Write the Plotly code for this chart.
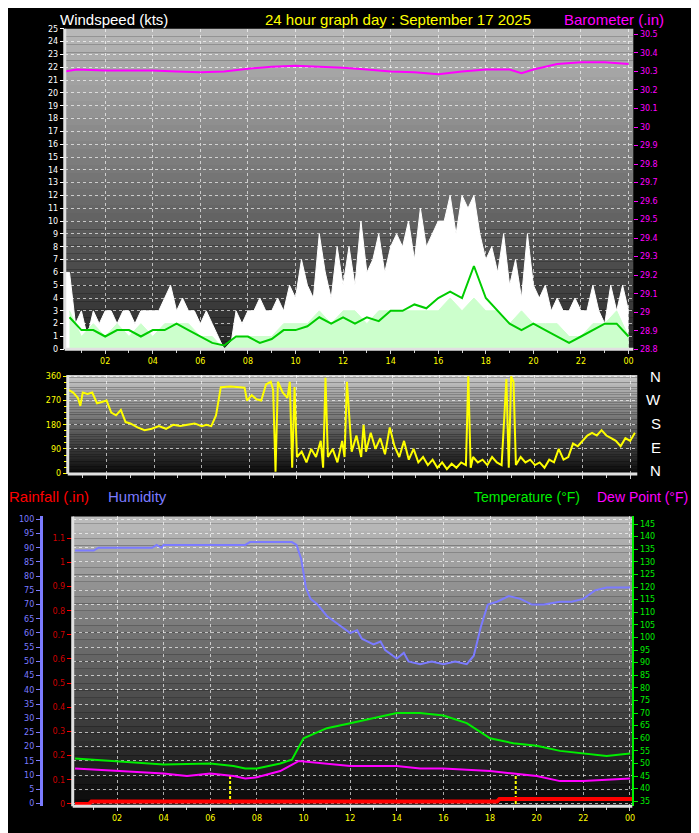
import plotly.graph_objects as go

W, H = 699, 833

# ---------------- data ----------------
gust_hours = [0.25*i for i in range(1, 97)]
gust_kts = [6,6,2,3,1,3,2,3,
            3,2,3,3,2,3,3,3,
            3,4,5,3,4,3,3,2,
            3,2,1,0,0,3,2,3,
            3,4,3,3,4,3,5,4,
            7,5,4,9,6,4,8,5,
            8,5,10,6,7,9,6,8,
            9,8,10,7,11,8,9,10,
            10,12,9,12,11,12,9,7,
            8,6,9,5,7,4,9,5,
            4,5,3,4,3,3,4,3,
            3,5,3,2,5,3,5,3]
wind_hours = [0.5*i for i in range(1, 49)]
speed_kts = [3,1,2,1,2,1,2,1,2,2,2,1,1,0,1,1,1,1,2,2,2,3,2,3,3,2,3,3,3,3,3,3,4,3,4,3,3,2,3,2,2,2,1,1,2,2,3,1]
avg_kts = [2.5,1.5,1.5,1,1.5,1.5,1,1.5,1.5,2,1.5,1,0.5,0.3,1,1,0.5,0.8,1.5,1.5,1.8,2.5,2,2.5,2,2.5,2.2,3,3,3.5,3.2,4,4.5,4,6.5,4,3,2,1.5,2,1.5,1,0.5,1,1.5,2,2,1]

baro_hours = [0.3,0.8,2,4,5,6,7,8,9,10,11,12,13,14,15,16,17,18,19,19.5,20,21,22,23,24]
baro_in = [30.30,30.31,30.305,30.305,30.30,30.295,30.30,30.315,30.325,30.33,30.325,30.32,30.31,30.30,30.295,30.285,30.30,30.31,30.31,30.29,30.31,30.34,30.35,30.35,30.34]

dir_points = [(0.4,310),(0.6,300),(0.8,280),(0.9,250),(1.0,300),(1.2,295),(1.4,300),(1.6,260),(1.8,265),(2.0,270),(2.2,225),(2.4,215),(2.6,235),(2.8,190),(3.0,185),(3.3,170),(3.6,160),(3.9,165),(4.2,175),(4.5,165),(4.8,180),(5.1,175),(5.4,180),(5.7,185),(6.0,175),(6.2,180),(6.4,175),(6.6,215),(6.8,320),(7.2,322),(7.6,320),(7.8,318),(7.9,270),(8.1,290),(8.3,275),(8.5,270),(8.7,330),(8.9,340),(9.0,310),(9.1,5),(9.2,340),(9.4,300),(9.6,280),(9.7,340),(9.8,20),(9.9,320),(10.0,60),(10.2,80),(10.4,40),(10.6,90),(10.8,60),(11.0,120),(11.1,20),(11.2,355),(11.3,60),(11.5,90),(11.7,40),(11.9,120),(12.0,60),(12.1,340),(12.3,80),(12.5,140),(12.7,60),(12.8,180),(12.9,80),(13.1,150),(13.3,90),(13.5,130),(13.7,70),(13.9,170),(14.1,100),(14.3,60),(14.5,120),(14.7,50),(14.9,90),(15.1,40),(15.3,60),(15.5,30),(15.7,50),(15.9,20),(16.1,40),(16.3,15),(16.5,35),(16.7,20),(16.9,40),(17.1,30),(17.2,360),(17.3,20),(17.4,60),(17.6,40),(17.8,50),(18.0,30),(18.2,60),(18.4,40),(18.6,30),(18.8,350),(18.9,20),(19.0,360),(19.1,340),(19.2,30),(19.4,60),(19.6,40),(19.8,50),(20.0,30),(20.2,40),(20.4,20),(20.6,50),(20.8,40),(21.0,90),(21.2,50),(21.4,60),(21.6,110),(21.8,100),(22.0,120),(22.2,140),(22.4,150),(22.6,140),(22.8,160),(23.0,140),(23.2,130),(23.4,120),(23.6,100),(23.8,130),(24.0,120),(24.2,150)]
dir_hours = [p[0] for p in dir_points]
dir_deg = [p[1] for p in dir_points]

hum_points = [(0.2,89),(1.0,89),(1.2,90),(2.0,90),(3.5,90),(3.7,91),(3.9,90),(4.0,91),(6.0,91),(7.5,91),(7.7,92),(9.5,92),(9.7,91),(9.9,86),(10.1,76),(10.3,72),(10.6,70),(11.0,66),(11.5,63),(12.0,60),(12.3,61),(12.5,58),(13.0,56),(13.3,57),(13.5,54),(14.0,51),(14.3,53),(14.5,50),(15.0,49),(15.5,50),(16.0,49),(16.5,50),(17.0,49),(17.3,52),(17.6,62),(17.9,70),(18.3,71),(18.8,73),(19.3,72),(19.8,70),(20.3,70),(21.0,71),(21.5,71),(22.0,72),(22.5,75),(23.0,76),(24.0,76)]
hum_hours = [p[0] for p in hum_points]
hum_pct = [p[1] for p in hum_points]

temp_hours = [0.2,2,4,6,7,7.5,8,9,9.5,10,11,12,13,14,15,16,17,18,19,20,21,22,23,24]
temp_f = [52,51,49.6,50,49,48,48,50,51.5,60,64,66,68,70,70,69,66,60,58,57,55,54,53,54]
dew_hours = [0.2,2,4,5,6,7,7.5,8,9,9.8,11,12,13,14,15,16,17,18,19,20,21,22,23,24]
dew_f = [48,47,46,45,46,45,44,44.5,47,51,50,49,49,49,48,48,47.5,47,46,45,43,43,43.5,44]

rain_hours = [0.2,0.8,0.9,18.3,18.4,24.1]
rain_in = [0,0,0.01,0.01,0.02,0.02]
rain_mark_hours = [6.85, 19.1]
rain_mark_top = [0.12, 0.12]

tick_hours = [2,4,6,8,10,12,14,16,18,20,22,24]
tick_text = ["02","04","06","08","10","12","14","16","18","20","22","00"]

# ---------------- layout helpers ----------------
def px_x(x): return x / W
def px_y(y): return 1 - y / H

panels = {
    "top": (57, 628, 17, 341, "#b8b8b8", "#282828"),
    "mid": (60, 632, 367, 467, "#c8c8c8", "#0a0a0a"),
    "bot": (65, 627, 510, 803, "#bcbcbc", "#0a0a0a"),
}

def hex2rgb(h): return tuple(int(h[i:i+2], 16) for i in (1, 3, 5))

shapes = []
for k, (x0, x1, y0, y1, c0, c1) in panels.items():
    n = 40
    a, b = hex2rgb(c0), hex2rgb(c1)
    for i in range(n):
        f = i / (n - 1)
        col = "rgb(%d,%d,%d)" % tuple(int(a[j] + (b[j] - a[j]) * f) for j in range(3))
        ya = y0 + (y1 - y0) * i / n
        yb = y0 + (y1 - y0) * (i + 1) / n
        shapes.append(dict(type="rect", xref="paper", yref="paper", layer="below",
                           x0=px_x(x0), x1=px_x(x1), y0=px_y(yb), y1=px_y(ya),
                           fillcolor=col, line=dict(width=0)))
    shapes.append(dict(type="line", xref="paper", yref="paper", x0=px_x(x0), x1=px_x(x0),
                       y0=px_y(y1), y1=px_y(y0), line=dict(color="#e0e0e0", width=3)))
    shapes.append(dict(type="line", xref="paper", yref="paper", x0=px_x(x0), x1=px_x(x1),
                       y0=px_y(y1), y1=px_y(y1), line=dict(color="#e0e0e0", width=3)))

fig = go.Figure()

# top panel
fig.add_trace(go.Scatter(x=gust_hours, y=gust_kts, mode="lines", line=dict(color="white", width=1),
                         fill="tozeroy", fillcolor="white", xaxis="x", yaxis="y"))
fig.add_trace(go.Scatter(x=wind_hours, y=speed_kts, mode="lines", line=dict(color="#ccffcc", width=1),
                         fill="tozeroy", fillcolor="#ccffcc", xaxis="x", yaxis="y"))
fig.add_trace(go.Scatter(x=wind_hours, y=avg_kts, mode="lines", line=dict(color="#00cc00", width=2),
                         xaxis="x", yaxis="y"))
fig.add_trace(go.Scatter(x=baro_hours, y=baro_in, mode="lines", line=dict(color="#ff00ff", width=2),
                         xaxis="x", yaxis="y2"))
# middle
fig.add_trace(go.Scatter(x=dir_hours, y=dir_deg, mode="lines", line=dict(color="#ffff00", width=2),
                         xaxis="x3", yaxis="y3"))
# bottom
fig.add_trace(go.Scatter(x=hum_hours, y=hum_pct, mode="lines", line=dict(color="#7b7bff", width=2),
                         xaxis="x4", yaxis="y4"))
fig.add_trace(go.Scatter(x=temp_hours, y=temp_f, mode="lines", line=dict(color="#00ee00", width=2),
                         xaxis="x4", yaxis="y6"))
fig.add_trace(go.Scatter(x=dew_hours, y=dew_f, mode="lines", line=dict(color="#ff00ff", width=2),
                         xaxis="x4", yaxis="y6"))
for h, t in zip(rain_mark_hours, rain_mark_top):
    fig.add_trace(go.Scatter(x=[h, h], y=[0, t], mode="lines", line=dict(color="#ffff00", width=2, dash="3px,2px"),
                             xaxis="x4", yaxis="y5"))
fig.add_trace(go.Scatter(x=rain_hours, y=rain_in, mode="lines", line=dict(color="#ff0000", width=4),
                         xaxis="x4", yaxis="y5"))

tickf = dict(family="DejaVu Sans", size=8)
grid = dict(showgrid=True, gridcolor="rgba(255,255,255,0.65)", griddash="dot", gridwidth=1, zeroline=False)

def xax(dom, rng, labels, anchor):
    d = dict(domain=dom, range=rng, tickvals=tick_hours, ticktext=tick_text if labels else [""]*12,
             tickfont=dict(tickf, color="#ffff00"), ticks="outside", ticklen=4, tickcolor="#d0d0d0",
             anchor=anchor, showline=False, **grid)
    d["minor"] = dict(dtick=1, ticks="outside", ticklen=3, tickcolor="#d0d0d0", showgrid=False)
    return d

fig.update_layout(
    width=W, height=H, paper_bgcolor="black", plot_bgcolor="rgba(0,0,0,0)",
    margin=dict(l=0, r=0, t=0, b=0), showlegend=False, shapes=shapes,
    xaxis=xax([px_x(57), px_x(628)], [0.3, 24.2], True, "y"),
    yaxis=dict(domain=[px_y(341), px_y(17)], range=[0, 25], dtick=1, tickfont=dict(tickf, color="white"),
               ticks="outside", ticklen=4, tickcolor="white", **grid),
    yaxis2=dict(overlaying="y", side="right", anchor="x", range=[28.8, 30.53], dtick=0.1,
                tickfont=dict(tickf, color="#ff00ff"), ticks="outside", ticklen=4, tickcolor="#ff00ff",
                showgrid=False, zeroline=False),
    xaxis3=xax([px_x(60), px_x(632)], [0.37, 24.3], False, "y3"),
    yaxis3=dict(domain=[px_y(467), px_y(367)], range=[-3, 365], tickvals=[0, 90, 180, 270, 360],
                tickfont=dict(tickf, color="#ffff00"), ticks="outside", ticklen=4, tickcolor="#ffff00",
                anchor="x3", minor=dict(dtick=22.5, ticks="outside", ticklen=3, tickcolor="#ffff00", showgrid=False), **grid),
    xaxis4=xax([px_x(65), px_x(627)], [0.1, 24.1], True, "y4"),
    yaxis4=dict(domain=[px_y(803), px_y(510)], range=[-1, 101], dtick=5, anchor="free", position=px_x(33),
                tickfont=dict(tickf, color="#7b7bff"), ticks="outside", ticklen=4, tickcolor="#7b7bff",
                showline=True, linecolor="#7b7bff", linewidth=3, **grid),
    yaxis5=dict(overlaying="y4", anchor="x4", range=[-0.01, 1.19], dtick=0.1,
                tickfont=dict(tickf, color="#cc0000"), ticks="outside", ticklen=5, tickcolor="#ff0000",
                showgrid=False, zeroline=False),
    yaxis6=dict(overlaying="y4", side="right", anchor="x4", range=[33, 148], dtick=5,
                tickfont=dict(tickf, color="#00ee00"), ticks="outside", ticklen=4, tickcolor="#00ee00",
                showline=True, linecolor="#00ee00", linewidth=2, showgrid=False, zeroline=False),
)

anns = [
    (52, 8, "Windspeed (kts)", "white", 15),
    (258, 8, "24 hour graph day : September 17 2025", "#ffff00", 15),
    (558, 8, "Barometer (.in)", "#ff00ff", 15),
    (1, 490, "Rainfall (.in)", "#ff0000", 15),
    (100, 490, "Humidity", "#7b7bff", 15),
    (468, 490, "Temperature (°F)", "#00ee00", 14),
    (592, 490, "Dew Point (°F)", "#ff00ff", 14),
]
annotations = [dict(x=px_x(x), y=px_y(y), xref="paper", yref="paper", text=t, showarrow=False,
                    xanchor="left", yanchor="middle", xshift=-2,
                    font=dict(family="Liberation Sans", size=s, color=c)) for x, y, t, c, s in anns]
for i, L in enumerate(["N", "W", "S", "E", "N"]):
    annotations.append(dict(x=px_x(658), y=px_y(368 + 24 * i), xref="paper", yref="paper", text=L,
                            showarrow=False, font=dict(family="Liberation Sans", size=15, color="white")))
fig.update_layout(annotations=annotations)

fig.write_html("out.html")
